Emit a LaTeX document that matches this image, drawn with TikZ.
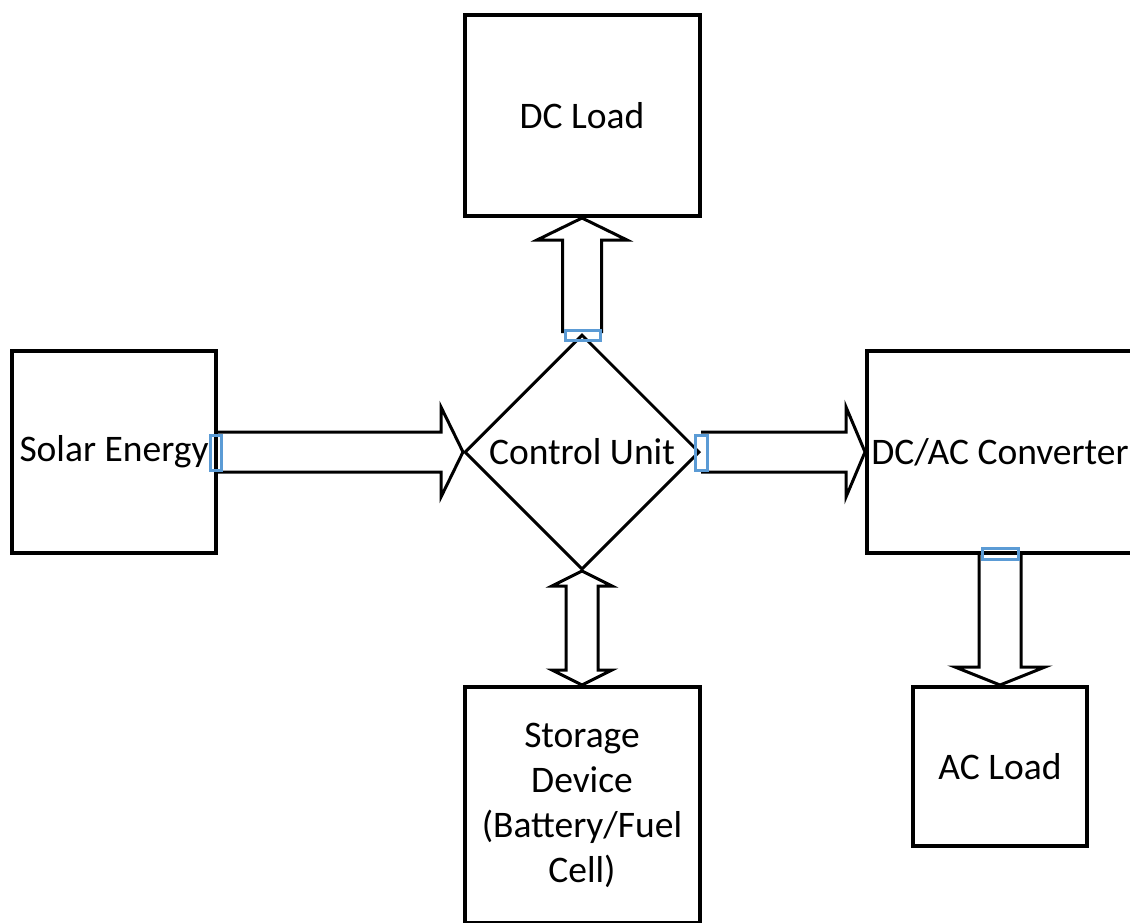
\documentclass[tikz,border=0pt]{standalone}
\usepackage{fontspec}
\setmainfont{Carlito}
\usetikzlibrary{positioning, calc, shapes.geometric}
\definecolor{hdlblue}{RGB}{91,155,213}
\tikzset{
  blk/.style={
    draw, line width=4pt, align=center, inner sep=0pt,
    font=\fontsize{37.5}{45}\selectfont
  },
  dia/.style={
    draw, diamond, line width=3pt, inner sep=0pt,
    minimum width=235pt, minimum height=235pt,
    font=\fontsize{37.5}{45}\selectfont
  },
  fat/.style={draw, line width=3pt, line join=miter},
  hdl/.style={draw=hdlblue, line width=3pt, inner sep=0pt}
}

% block arrow: tail, tip, half shaft, half head, head length
\newcommand{\fatarrow}[5]{%
  \coordinate (hd) at ($(#2)!#5!(#1)$);
  \draw[fat] ($(#1)!#3!90:(#2)$) -- ($(hd)!#3!90:(#2)$)
    -- ($(hd)!#4!90:(#2)$) -- (#2) -- ($(hd)!#4!-90:(#2)$)
    -- ($(hd)!#3!-90:(#2)$) -- ($(#1)!#3!-90:(#2)$);
}
% two-headed block arrow
\newcommand{\fatdarrow}[5]{%
  \coordinate (ha) at ($(#1)!#5!(#2)$);
  \coordinate (hb) at ($(#2)!#5!(#1)$);
  \draw[fat] (#1) -- ($(ha)!#4!90:(#2)$) -- ($(ha)!#3!90:(#2)$)
    -- ($(hb)!#3!90:(#2)$) -- ($(hb)!#4!90:(#2)$) -- (#2)
    -- ($(hb)!#4!-90:(#2)$) -- ($(hb)!#3!-90:(#2)$)
    -- ($(ha)!#3!-90:(#2)$) -- ($(ha)!#4!-90:(#2)$) -- cycle;
}

\begin{document}
\begin{tikzpicture}[x=1pt, y=-1pt]

  \clip (0,0) rectangle (1130,922);

  \node[dia] (cu) at (582,452) {Control Unit};
  \node[blk, minimum width=235pt, minimum height=201pt,
        above=115pt of cu]                      (dcl)  {DC Load};
  \node[blk, minimum width=204pt, minimum height=202pt,
        left=245pt of cu]                       (sol)  {Solar Energy};
  \node[blk, minimum width=266pt, minimum height=202pt,
        right=164pt of cu]                      (conv) {DC/AC Converter};
  \node[blk, minimum width=235pt, minimum height=236pt,
        below=114pt of cu]                      (sto)  {Storage\\Device\\(Battery/Fuel\\Cell)};
  \node[blk, minimum width=174pt, minimum height=159pt,
        below=130pt of conv]                    (acl)  {AC Load};

  \fatarrow{sol.east}{cu.west}{20pt}{45pt}{22pt}
  \fatarrow{cu.north}{dcl.south}{19.5pt}{45pt}{22pt}
  \fatarrow{cu.east}{conv.west}{20pt}{45pt}{19pt}
  \fatarrow{conv.south}{acl.north}{21pt}{45pt}{18pt}
  \fatdarrow{cu.south}{sto.north}{16pt}{30pt}{15pt}

  \node[hdl, minimum width=11pt, minimum height=35pt] (h1) at ($(sol.east)+(-2,1)$) {};
  \node[hdl, minimum width=35pt, minimum height=10pt] (h2) at ($(cu.north)+(0.5,2)$) {};
  \node[hdl, minimum width=12pt, minimum height=35pt] (h3) at ($(cu.east)+(0,1)$) {};
  \node[hdl, minimum width=36pt, minimum height=11pt] (h4) at ($(conv.south)+(0,-1)$) {};

\end{tikzpicture}
\end{document}
